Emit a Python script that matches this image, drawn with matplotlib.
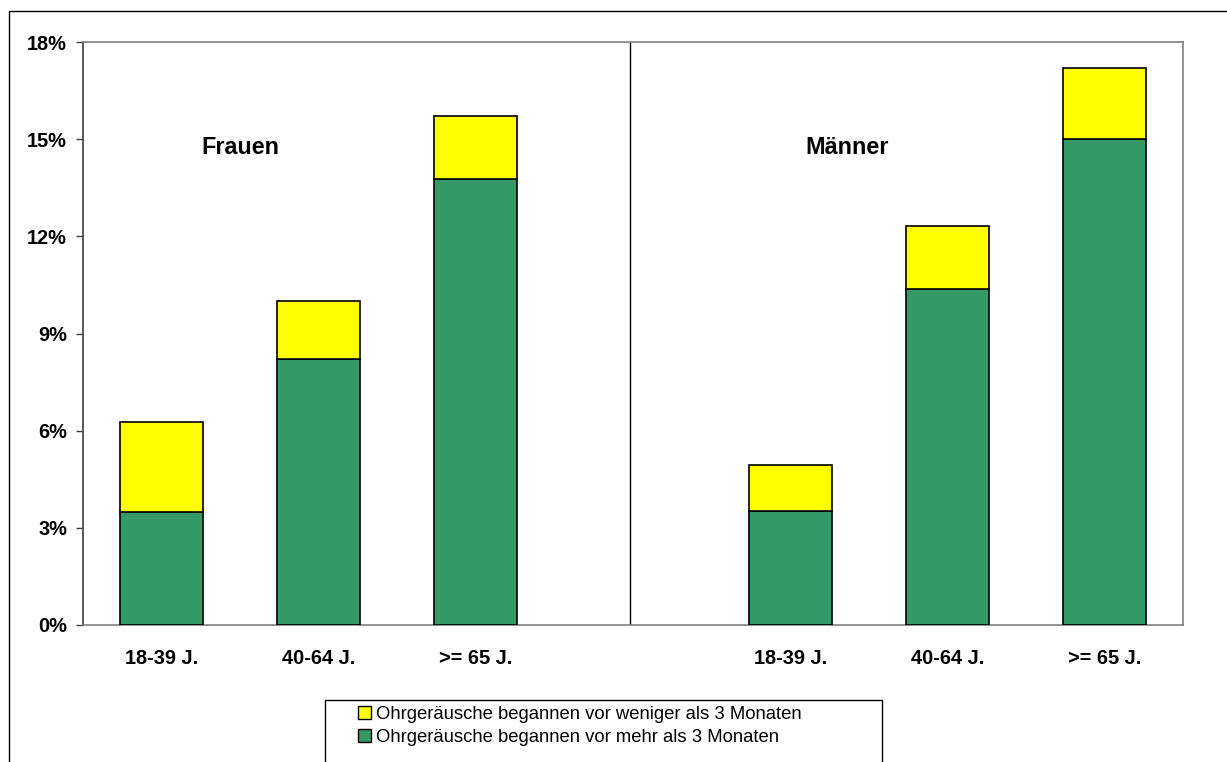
import matplotlib.pyplot as plt
from matplotlib.patches import Rectangle, Patch
from matplotlib.ticker import FuncFormatter

plt.rcParams['font.family'] = ['Liberation Sans', 'DejaVu Sans']

# Tinnitus prevalence by age group, women (left) and men (right)
age_groups = ['18-39 J.', '40-64 J.', '>= 65 J.', '', '18-39 J.', '40-64 J.', '>= 65 J.']
positions = [0, 1, 2, 4, 5, 6]
more_than_3m = [3.49, 8.22, 13.77, 3.51, 10.38, 14.99]   # % onset more than 3 months ago
less_than_3m = [2.77, 1.77, 1.95, 1.44, 1.94, 2.20]      # % onset less than 3 months ago
group_names = ['Frauen', 'Männer']

green = '#339966'
yellow = '#ffff00'

fig = plt.figure(figsize=(12.27, 7.62), dpi=100)
ax = fig.add_axes([83 / 1227, 137 / 762, 1100 / 1227, 583 / 762])

ax.bar(positions, more_than_3m, width=0.53, color=green, edgecolor='black', linewidth=1.2, zorder=3)
ax.bar(positions, less_than_3m, width=0.53, bottom=more_than_3m, color=yellow,
       edgecolor='black', linewidth=1.2, zorder=3)

# divider between the two groups
ax.plot([2.98, 2.98], [0, 18], color='black', linewidth=1, zorder=2)

ax.text(0.5, 14.75, group_names[0], ha='center', va='center', fontsize=16.8, fontweight='bold')
ax.text(4.36, 14.75, group_names[1], ha='center', va='center', fontsize=16.8, fontweight='bold')

ax.set_xlim(-0.5, 6.5)
ax.set_ylim(0, 18)
ax.set_yticks([0, 3, 6, 9, 12, 15, 18])
ax.yaxis.set_major_formatter(FuncFormatter(lambda v, p: f'{v:.0f}%'))
ax.set_xticks(range(len(age_groups)))
ax.set_xticklabels(age_groups)
ax.tick_params(axis='y', length=5, width=1, color='#404040', pad=6.5, labelsize=14.4)
ax.tick_params(axis='x', length=0, pad=17, labelsize=14.4)
for lab in ax.get_xticklabels() + ax.get_yticklabels():
    lab.set_fontweight('bold')

ax.spines['left'].set_color('#404040')
for side in ['top', 'right', 'bottom']:
    ax.spines[side].set_color('#808080')
for sp in ax.spines.values():
    sp.set_linewidth(1.2)

# outer chart frame and legend box
fig.patches.append(Rectangle((9 / 1227, -0.1), 1.2, (751 / 762) + 0.1, transform=fig.transFigure,
                             fill=False, edgecolor='black', linewidth=1))
fig.patches.append(Rectangle((325 / 1227, -0.1), 557 / 1227, (62 / 762) + 0.1, transform=fig.transFigure,
                             fill=False, edgecolor='black', linewidth=1))

handles = [Patch(facecolor=yellow, edgecolor='black'),
           Patch(facecolor=green, edgecolor='black')]
labels = ['Ohrgeräusche begannen vor weniger als 3 Monaten',
          'Ohrgeräusche begannen vor mehr als 3 Monaten']
fig.legend(handles, labels, loc='upper left', bbox_to_anchor=(358 / 1227, (762 - 706) / 762),
           frameon=False, fontsize=13.3, handlelength=0.7, handleheight=0.7,
           handletextpad=0.25, labelspacing=0.3, borderpad=0, borderaxespad=0)

fig.savefig('out.png', dpi=100)
